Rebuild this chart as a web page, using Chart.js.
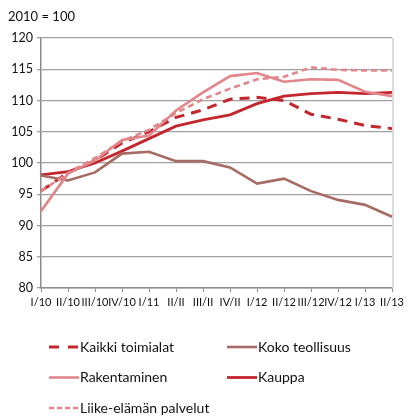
<!DOCTYPE html>
<html>
<head>
<meta charset="utf-8">
<script src="https://cdn.jsdelivr.net/npm/chart.js@4"></script>
<style>
  html, body { margin: 0; padding: 0; background: #fff; }
  #wrap { width: 408px; height: 417px; position: relative; }
</style>
</head>
<body>
<div id="wrap"><canvas id="graph"></canvas></div>
<script>
const FONT = 'Lato, "Open Sans", sans-serif';

// Neljännekset (x-akseli)
const quarters = ['I/10', 'II/10', 'III/10', 'IV/10', 'I/11', 'II/II', 'III/II', 'IV/II',
                  'I/12', 'II/12', 'III/12', 'IV/12', 'I/13', 'II/13'];

// Indeksit, 2010 = 100
const kaikkiToimialat = [95.5, 98.5, 100.4, 103.2, 105.0, 107.3, 108.5, 110.2, 110.5, 110.0, 107.8, 107.0, 106.0, 105.5];
const kokoTeollisuus  = [98.0, 97.2, 98.5, 101.5, 101.8, 100.3, 100.3, 99.3, 96.7, 97.5, 95.5, 94.1, 93.3, 91.4];
const rakentaminen    = [92.3, 98.3, 100.4, 103.7, 104.4, 108.4, 111.3, 113.9, 114.4, 113.0, 113.4, 113.3, 111.4, 110.7];
const kauppa          = [98.1, 98.6, 100.0, 101.9, 103.9, 105.9, 106.9, 107.7, 109.5, 110.7, 111.1, 111.3, 111.1, 111.3];
const liikePalvelut   = [95.5, 98.4, 100.8, 103.5, 105.3, 108.0, 110.2, 111.9, 113.4, 113.8, 115.3, 114.9, 114.8, 114.8];

const yTicks = [80, 85, 90, 95, 100, 105, 110, 115, 120];

const ctx = document.getElementById('graph').getContext('2d');

function line(label, data, color, width, dash) {
    return {
        label: label,
        data: data,
        borderColor: color,
        backgroundColor: color,
        borderWidth: width,
        borderDash: dash,
        pointRadius: 0,
        tension: 0,
        fill: false
    };
}

var data = {
    labels: quarters,
    datasets: [
        line('Liike-elämän palvelut', liikePalvelut, '#e3868b', 2.6, [6, 4]),
        line('Rakentaminen', rakentaminen, '#e3868b', 2.6, []),
        line('Koko teollisuus', kokoTeollisuus, '#a66b62', 2.6, []),
        line('Kauppa', kauppa, '#c4262d', 2.8, []),
        line('Kaikki toimialat', kaikkiToimialat, '#c4262d', 3, [10, 7])
    ]
};

// Selite kahteen sarakkeeseen + yksikköteksti
const legendOrder = ['Kaikki toimialat', 'Koko teollisuus', 'Rakentaminen', 'Kauppa', 'Liike-elämän palvelut'];

const extras = {
    id: 'extras',
    afterDraw(chart) {
        const c = chart.ctx;
        c.save();
        c.fillStyle = '#111';
        c.font = '13px ' + FONT;
        c.textBaseline = 'middle';
        c.textAlign = 'left';
        c.fillText('2010 = 100', 8, 17);

        c.font = '14px ' + FONT;
        legendOrder.forEach((name, i) => {
            const ds = chart.data.datasets.find(d => d.label === name);
            const x = i % 2 === 0 ? 49 : 227;
            const y = 347 + Math.floor(i / 2) * 30.5;
            c.strokeStyle = ds.borderColor;
            c.lineWidth = ds.borderWidth;
            c.setLineDash(ds.borderDash.length ? (name === 'Kaikki toimialat' ? [10, 9] : [5, 3]) : []);
            c.beginPath();
            c.moveTo(x, y);
            c.lineTo(x + 30, y);
            c.stroke();
            c.setLineDash([]);
            c.fillStyle = '#111';
            c.fillText(name, x + 31, y);
        });
        c.restore();
    }
};

var options = {
    responsive: true,
    maintainAspectRatio: false,
    animation: false,
    layout: { padding: { top: 38, right: 10, bottom: 0, left: 0 } },
    plugins: {
        legend: { display: false },
        title: { display: false },
        tooltip: { enabled: false }
    },
    scales: {
        x: {
            offset: false,
            afterFit: s => { s.height = 129; },
            grid: {
                display: true,
                drawOnChartArea: false,
                color: '#8c8c8c',
                tickLength: 4
            },
            border: { color: '#8c8c8c', width: 1.5 },
            ticks: {
                autoSkip: false,
                maxRotation: 0,
                padding: 4,
                color: '#111',
                font: { family: FONT, size: 11 }
            }
        },
        y: {
            min: 80,
            max: 120,
            afterFit: s => { s.width = 41; },
            afterBuildTicks: s => { s.ticks = yTicks.map(v => ({ value: v })); },
            grid: {
                color: '#a0a0a0',
                lineWidth: 1.3,
                tickLength: 4
            },
            border: { color: '#8c8c8c', width: 1.5 },
            ticks: {
                padding: 4,
                color: '#111',
                font: { family: FONT, size: 12.5 }
            }
        }
    }
};

// Oikea reunaviiva
const rightEdge = {
    id: 'rightEdge',
    beforeDatasetsDraw(chart) {
        const a = chart.chartArea, c = chart.ctx;
        c.save();
        c.strokeStyle = '#dcdcdc';
        c.lineWidth = 2;
        c.beginPath();
        c.moveTo(a.right + 1, a.top);
        c.lineTo(a.right + 1, a.bottom);
        c.stroke();
        c.restore();
    }
};

var graph = new Chart(ctx, {
    type: 'line',
    data: data,
    options: options,
    plugins: [extras, rightEdge]
});
</script>
</body>
</html>
